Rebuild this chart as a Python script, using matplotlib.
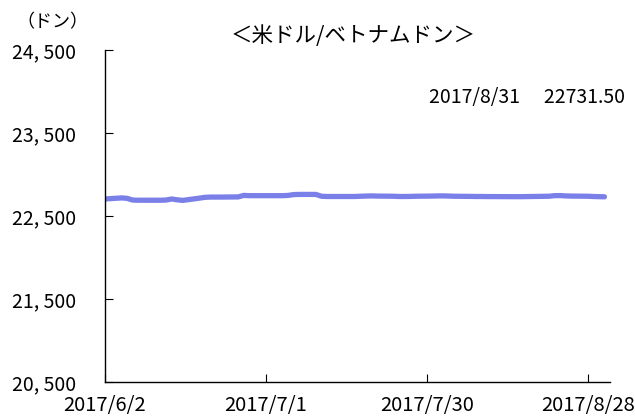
import matplotlib
matplotlib.use("Agg")
import matplotlib.pyplot as plt
import pandas as pd

plt.rcParams['font.family'] = ['Noto Sans CJK JP', 'DejaVu Sans']

dates = [
    "2017-06-02", "2017-06-05", "2017-06-06", "2017-06-07", "2017-06-08", "2017-06-09",
    "2017-06-12", "2017-06-13", "2017-06-14", "2017-06-15", "2017-06-16",
    "2017-06-19", "2017-06-20", "2017-06-21", "2017-06-22", "2017-06-23",
    "2017-06-26", "2017-06-27", "2017-06-28", "2017-06-29", "2017-06-30",
    "2017-07-03", "2017-07-04", "2017-07-05", "2017-07-06", "2017-07-07",
    "2017-07-10", "2017-07-11", "2017-07-12", "2017-07-13", "2017-07-14",
    "2017-07-17", "2017-07-18", "2017-07-19", "2017-07-20", "2017-07-21",
    "2017-07-24", "2017-07-25", "2017-07-26", "2017-07-27", "2017-07-28",
    "2017-07-31", "2017-08-01", "2017-08-02", "2017-08-03", "2017-08-04",
    "2017-08-07", "2017-08-08", "2017-08-09", "2017-08-10", "2017-08-11",
    "2017-08-14", "2017-08-15", "2017-08-16", "2017-08-17", "2017-08-18",
    "2017-08-21", "2017-08-22", "2017-08-23", "2017-08-24", "2017-08-25",
    "2017-08-28", "2017-08-29", "2017-08-30", "2017-08-31",
]
values = [
    22705, 22718, 22712, 22692, 22690, 22690,
    22690, 22692, 22705, 22695, 22688,
    22715, 22725, 22728, 22728, 22728,
    22730, 22748, 22745, 22745, 22745,
    22745, 22745, 22748, 22758, 22760,
    22760, 22738, 22735, 22735, 22735,
    22735, 22738, 22740, 22742, 22740,
    22738, 22735, 22735, 22736, 22738,
    22740, 22742, 22742, 22740, 22738,
    22736, 22735, 22735, 22734, 22734,
    22733, 22733, 22733, 22734, 22735,
    22738, 22745, 22746, 22742, 22740,
    22738, 22735, 22733, 22731.5,
]
y_ticks = [20500, 21500, 22500, 23500, 24500]
x_ticks = ["2017-06-02", "2017-07-01", "2017-07-30", "2017-08-28"]
x_tick_labels = ["2017/6/2", "2017/7/1", "2017/7/30", "2017/8/28"]
title = "＜米ドル/ベトナムドン＞"
unit = "（ドン）"
latest_text = "2017/8/31　 22731.50"

fig = plt.figure(figsize=(6.35, 4.16), dpi=100)
ax = fig.add_axes([105/635, 1-382/416, 505/635, 332/416])

x = pd.to_datetime(dates)
ax.plot(x, values, color="#7b80e8", lw=3.8, solid_capstyle="round", solid_joinstyle="round")

ax.set_ylim(20500, 24500)
ax.set_xlim(pd.Timestamp("2017-06-02"), pd.Timestamp("2017-09-01"))
ax.set_yticks(y_ticks)
ax.set_yticklabels([f"{v:,}".replace(",", ", ") for v in y_ticks])
ax.set_xticks(pd.to_datetime(x_ticks))
ax.set_xticklabels(x_tick_labels)

for s in ["top", "right"]:
    ax.spines[s].set_visible(False)
for s in ["left", "bottom"]:
    ax.spines[s].set_linewidth(1.0)
    ax.spines[s].set_color("black")

ax.tick_params(axis="y", direction="in", length=6, width=0.8, labelsize=14, pad=21)
ax.tick_params(axis="x", direction="in", length=6, width=0.8, labelsize=14.5, pad=9)

fig.text(353/635, 1-36/416, title, ha="center", va="center", fontsize=15.5)
fig.text(52/635, 1-22/416, unit, ha="center", va="center", fontsize=13)
fig.text(625/635, 1-98/416, latest_text, ha="right", va="center", fontsize=14)

fig.savefig("out.png", dpi=100)
